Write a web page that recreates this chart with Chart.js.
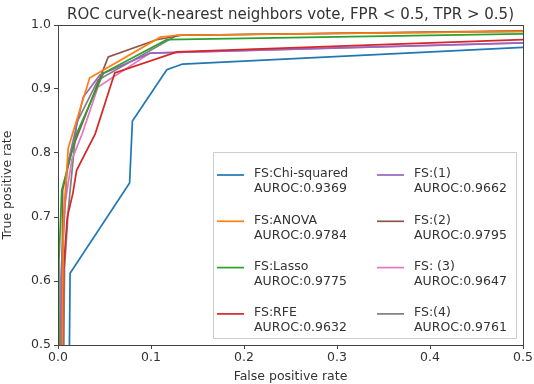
<!DOCTYPE html>
<html>
<head>
<meta charset="utf-8">
<script src="https://cdn.jsdelivr.net/npm/chart.js@4"></script>
<style>
  body { margin: 0; background: #fff; }
  #wrap { width: 534px; height: 384px; }
</style>
</head>
<body>
<div id="wrap"><canvas id="myChart"></canvas></div>
<script>
// ROC points, [fpr, tpr]
var chiFpr = [0.012, 0.013, 0.077, 0.080, 0.117, 0.134, 0.5];
var chiTpr = [0.45, 0.612, 0.753, 0.850, 0.930, 0.939, 0.965];
var anovaFpr = [0.004, 0.006, 0.011, 0.034, 0.054, 0.110, 0.128, 0.5];
var anovaTpr = [0.45, 0.70, 0.808, 0.917, 0.934, 0.981, 0.984, 0.990];
var lassoFpr = [0.0, 0.001, 0.004, 0.020, 0.049, 0.117, 0.5];
var lassoTpr = [0.45, 0.63, 0.742, 0.830, 0.925, 0.977, 0.986];
var rfeFpr = [0.004, 0.006, 0.010, 0.016, 0.020, 0.040, 0.061, 0.128, 0.5];
var rfeTpr = [0.45, 0.62, 0.70, 0.737, 0.773, 0.830, 0.925, 0.958, 0.977];
var fs1Fpr = [0.002, 0.004, 0.010, 0.027, 0.045, 0.099, 0.5];
var fs1Tpr = [0.45, 0.63, 0.78, 0.887, 0.922, 0.956, 0.972];
var fs2Fpr = [0.004, 0.005, 0.015, 0.054, 0.106, 0.133, 0.5];
var fs2Tpr = [0.45, 0.742, 0.805, 0.950, 0.977, 0.984, 0.991];
var fs3Fpr = [0.002, 0.003, 0.0075, 0.015, 0.026, 0.043, 0.099, 0.5];
var fs3Tpr = [0.45, 0.60, 0.720, 0.790, 0.830, 0.903, 0.956, 0.972];
var fs4Fpr = [0.006, 0.007, 0.011, 0.020, 0.043, 0.128, 0.5];
var fs4Tpr = [0.45, 0.62, 0.710, 0.847, 0.914, 0.984, 0.990];

var names = ['FS:Chi-squared', 'FS:ANOVA', 'FS:Lasso', 'FS:RFE', 'FS:(1)', 'FS:(2)', 'FS: (3)', 'FS:(4)'];
var aurocs = ['0.9369', '0.9784', '0.9775', '0.9632', '0.9662', '0.9795', '0.9647', '0.9761'];
var colors = ['#1f77b4', '#ff7f0e', '#2ca02c', '#d62728', '#9467bd', '#8c564b', '#e377c2', '#7f7f7f'];
var xTicks = [0.0, 0.1, 0.2, 0.3, 0.4, 0.5];
var yTicks = [0.5, 0.6, 0.7, 0.8, 0.9, 1.0];

var allFpr = [chiFpr, anovaFpr, lassoFpr, rfeFpr, fs1Fpr, fs2Fpr, fs3Fpr, fs4Fpr];
var allTpr = [chiTpr, anovaTpr, lassoTpr, rfeTpr, fs1Tpr, fs2Tpr, fs3Tpr, fs4Tpr];

var datasets = names.map(function(name, i) {
    return {
        label: name,
        data: allFpr[i].map(function(x, j) { return { x: x, y: allTpr[i][j] }; }),
        borderColor: colors[i],
        backgroundColor: colors[i],
        borderWidth: 1.7,
        showLine: true,
        pointRadius: 0,
        fill: false
    };
});

var font = 'DejaVu Sans';
var textCol = '#333';

// frame, title and the legend box inside the plot
var decor = {
    id: 'decor',
    afterDraw: function(chart) {
        var c = chart.ctx, a = chart.chartArea;
        c.save();
        c.strokeStyle = '#444';
        c.lineWidth = 1;
        c.strokeRect(a.left + 0.5, a.top + 0.5, a.right - a.left, a.bottom - a.top);

        c.fillStyle = textCol;
        c.font = '15px "' + font + '"';
        c.textAlign = 'center';
        c.textBaseline = 'alphabetic';
        c.fillText('ROC curve(k-nearest neighbors vote, FPR < 0.5, TPR > 0.5)', (a.left + a.right) / 2, 19);

        // legend
        var bx = 213, by = 152, bw = 303, bh = 186;
        c.fillStyle = 'rgba(255,255,255,0.85)';
        c.strokeStyle = '#ccc';
        c.beginPath();
        c.rect(bx + 0.5, by + 0.5, bw, bh);
        c.fill();
        c.stroke();
        c.font = '12.5px "' + font + '"';
        c.textAlign = 'left';
        c.textBaseline = 'middle';
        for (var i = 0; i < names.length; i++) {
            var col = Math.floor(i / 4), row = i % 4;
            var lx = col === 0 ? 217 : 377;
            var ly = 175 + row * 46.3;
            c.strokeStyle = colors[i];
            c.lineWidth = 1.7;
            c.beginPath();
            c.moveTo(lx, ly);
            c.lineTo(lx + 27, ly);
            c.stroke();
            c.fillStyle = textCol;
            c.fillText(names[i], lx + 37, ly - 1);
            c.fillText('AUROC:' + aurocs[i], lx + 37, ly + 14);
        }
        c.restore();
    }
};

var ctx = document.getElementById('myChart').getContext('2d');
var myChart = new Chart(ctx, {
    type: 'scatter',
    data: { datasets: datasets },
    options: {
        responsive: true,
        maintainAspectRatio: false,
        animation: false,
        layout: { padding: { top: 25, right: 11, left: 0, bottom: 0 } },
        plugins: {
            legend: { display: false },
            title: { display: false },
            tooltip: { enabled: false }
        },
        scales: {
            x: {
                type: 'linear',
                min: 0,
                max: 0.5,
                afterFit: function(s) { s.height = 39; },
                afterBuildTicks: function(s) { s.ticks = xTicks.map(function(v) { return { value: v }; }); },
                ticks: {
                    color: textCol,
                    padding: 1,
                    font: { family: font, size: 12.5 },
                    callback: function(v) { return v.toFixed(1); }
                },
                grid: { drawOnChartArea: false, drawTicks: true, tickLength: 4, color: '#444' },
                border: { display: true, color: '#444' },
                title: {
                    display: true,
                    text: 'False positive rate',
                    color: textCol,
                    padding: { top: 0, bottom: 0 },
                    font: { family: font, size: 12.5 }
                }
            },
            y: {
                type: 'linear',
                min: 0.5,
                max: 1.0,
                afterFit: function(s) { s.width = 58; },
                afterBuildTicks: function(s) { s.ticks = yTicks.map(function(v) { return { value: v }; }); },
                ticks: {
                    color: textCol,
                    padding: 3,
                    font: { family: font, size: 12.5 },
                    callback: function(v) { return v.toFixed(1); }
                },
                grid: { drawOnChartArea: false, drawTicks: true, tickLength: 4, color: '#444' },
                border: { display: true, color: '#444' },
                title: {
                    display: true,
                    text: 'True positive rate',
                    color: textCol,
                    padding: { top: 0, bottom: 2 },
                    font: { family: font, size: 12.5 }
                }
            }
        }
    },
    plugins: [decor]
});
</script>
</body>
</html>
